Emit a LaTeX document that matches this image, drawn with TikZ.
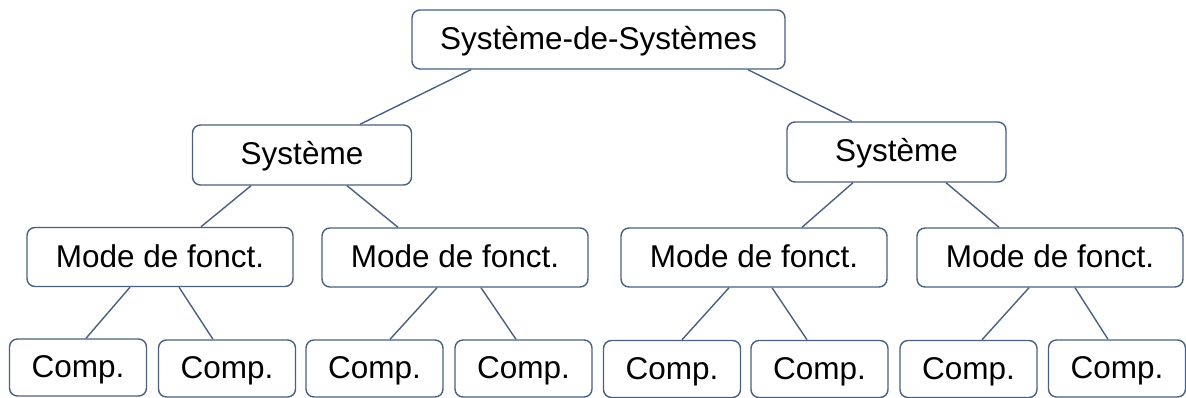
\documentclass[tikz,border=0pt]{standalone}
\usepackage{fontspec}
\setmainfont{Liberation Sans}
\usetikzlibrary{positioning}

\definecolor{lineblue}{RGB}{74,96,128}

\tikzset{
    box/.style={draw=lineblue, line width=1.4pt, rounded corners=8pt, fill=white,
        inner sep=0pt, text height=23pt, text depth=3pt,
        font=\fontsize{31.5}{36}\selectfont},
    topbox/.style={box, minimum width=373pt, minimum height=59pt},
    sysbox/.style={box, minimum width=219pt, minimum height=60pt},
    modebox/.style={box, minimum width=266pt, minimum height=59pt},
    compbox/.style={box, minimum width=137pt, minimum height=57pt},
    link/.style={draw=lineblue, line width=1.4pt}
}

\begin{document}
\begin{tikzpicture}[x=1pt, y=-1pt]
        \useasboundingbox (0,0) rectangle (1186,398);

        % draw the boxes
        \node[topbox] (sos) at (598.5,39.5) {Système-de-Systèmes};

        \node[sysbox] (sysL) at (302,155) {Système};
        \node[sysbox] (sysR) at (896.5,152) {Système};

        \node[modebox] (modeA) at (160,257) {Mode de fonct.};
        \node[modebox] (modeB) at (455,257.5) {Mode de fonct.};
        \node[modebox] (modeC) at (754,257.5) {Mode de fonct.};
        \node[modebox] (modeD) at (1050,257.5) {Mode de fonct.};

        \node[compbox] (compA) at (78,367.5) {Comp.};
        \node[compbox] (compB) at (227,368.5) {Comp.};
        \node[compbox] (compC) at (374.5,368.5) {Comp.};
        \node[compbox] (compD) at (523.5,368.5) {Comp.};
        \node[compbox] (compE) at (672,369) {Comp.};
        \node[compbox] (compF) at (819.5,369) {Comp.};
        \node[compbox] (compG) at (968.5,369) {Comp.};
        \node[compbox] (compH) at (1117,368.5) {Comp.};

        % draw the links
        \draw[link] ([xshift=-127.5pt]sos.south) -- ([xshift=58pt]sysL.north);
        \draw[link] ([xshift=149.5pt]sos.south) -- ([xshift=-44.5pt]sysR.north);

        \draw[link] ([xshift=-51pt]sysL.south) -- ([xshift=41pt]modeA.north);
        \draw[link] ([xshift=45pt]sysL.south) -- ([xshift=-57pt]modeB.north);
        \draw[link] ([xshift=-43.5pt]sysR.south) -- ([xshift=48pt]modeC.north);
        \draw[link] ([xshift=49.5pt]sysR.south) -- ([xshift=-51pt]modeD.north);

        \draw[link] ([xshift=-30pt]modeA.south) -- ([xshift=8pt]compA.north);
        \draw[link] ([xshift=19pt]modeA.south) -- ([xshift=-14pt]compB.north);
        \draw[link] ([xshift=-18pt]modeB.south) -- ([xshift=15.5pt]compC.north);
        \draw[link] ([xshift=26pt]modeB.south) -- ([xshift=-7.5pt]compD.north);
        \draw[link] ([xshift=-25pt]modeC.south) -- ([xshift=10pt]compE.north);
        \draw[link] ([xshift=18pt]modeC.south) -- ([xshift=-12.5pt]compF.north);
        \draw[link] ([xshift=-21pt]modeD.south) -- ([xshift=13.5pt]compG.north);
        \draw[link] ([xshift=25pt]modeD.south) -- ([xshift=-9pt]compH.north);
    \end{tikzpicture}
\end{document}
